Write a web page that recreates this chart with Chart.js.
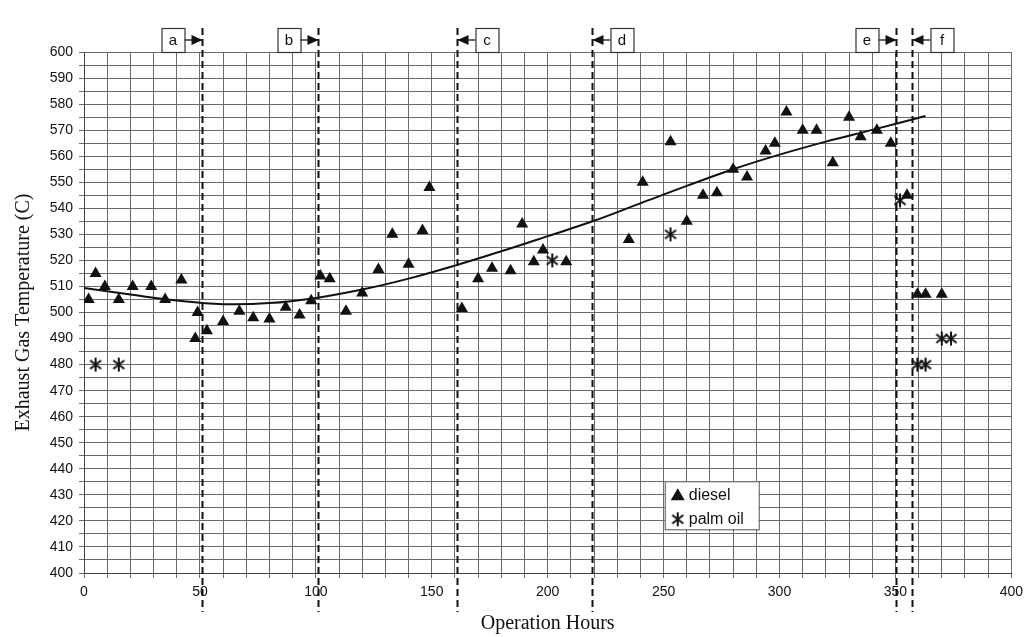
<!DOCTYPE html>
<html>
<head>
<meta charset="utf-8">
<script src="https://cdn.jsdelivr.net/npm/chart.js@4.4.1/dist/chart.umd.min.js"></script>
<style>
  html, body { margin: 0; padding: 0; background: #fff; }
</style>
</head>
<body>
<canvas id="tempChart" width="1029" height="637"></canvas>
<script>
// values
const dieselHours = [2, 5, 9, 15, 21, 29, 35, 42, 49, 48, 53, 60, 67, 73, 80, 87, 93, 98, 102, 106,
  113, 120, 127, 133, 140, 146, 149, 163, 170, 176, 184, 189, 194, 198, 208, 235, 241, 253, 260, 267,
  273, 280, 286, 294, 298, 303, 310, 316, 323, 330, 335, 342, 348, 355, 359.5, 363, 370];
const dieselTemp = [505, 515, 510, 505, 510, 510, 505, 512.5, 500, 490, 493, 496.5, 500.5, 498, 497.5, 502, 499, 504.5, 514, 513,
  500.5, 507.5, 516.5, 530, 518.5, 531.5, 548, 501.5, 513, 517, 516, 534, 519.5, 524, 519.5, 528, 550, 565.5, 535, 545,
  546, 555, 552, 562, 565, 577, 570, 570, 557.5, 575, 567.5, 570, 565, 545, 507, 507, 507];

const palmHours = [5, 15, 202, 253, 352, 359.5, 363, 370, 374];
const palmTemp = [480, 480, 520, 530, 543, 480, 480, 490, 490];

const trendHours = [0, 20, 40, 60, 80, 100, 120, 140, 160, 180, 200, 220, 240, 260, 280, 300, 320, 340, 363];
const trendTemp = [509.4, 506.9, 504.6, 503.2, 503.6, 505.6, 508.8, 513.0, 518, 523.5, 529.3, 535.2, 541.9, 548.6,
  555.0, 560.6, 565.6, 570.1, 575.4];

// phase boundaries (dashed lines) and which side the label box sits on
const phaseHours = [50.8, 101, 161, 219, 350.4, 357.3];
const phaseLabels = ["a", "b", "c", "d", "e", "f"];
const phaseSide = ["left", "left", "right", "right", "left", "right"];

const seriesNames = ["diesel", "palm oil"];

const zip = (xs, ys) => xs.map((x, i) => ({ x: x, y: ys[i] }));

// asterisk marker for palm oil: an X with a vertical stroke
function makeAsterisk(size) {
  const c = document.createElement("canvas");
  c.width = size; c.height = size;
  const g = c.getContext("2d");
  const m = size / 2, r = size / 2 - 1;
  g.strokeStyle = "#111";
  g.lineWidth = 2;
  g.beginPath();
  g.moveTo(m, m - r); g.lineTo(m, m + r);
  const a = 38 * Math.PI / 180;
  for (const s of [1, -1]) {
    g.moveTo(m - r * Math.cos(a), m - s * r * Math.sin(a));
    g.lineTo(m + r * Math.cos(a), m + s * r * Math.sin(a));
  }
  g.stroke();
  return c;
}
const asterisk = makeAsterisk(16);

const phasePlugin = {
  id: "phases",
  afterDraw(chart) {
    const ctx = chart.ctx;
    const xs = chart.scales.x;
    ctx.save();
    phaseHours.forEach((h, i) => {
      const px = Math.round(xs.getPixelForValue(h)) + 0.5;
      // dashed boundary
      ctx.strokeStyle = "#111";
      ctx.lineWidth = 2;
      ctx.setLineDash([7, 4]);
      ctx.beginPath();
      ctx.moveTo(px, 28);
      ctx.lineTo(px, 612);
      ctx.stroke();
      ctx.setLineDash([]);

      // label box + arrow
      const gap = 18, bw = 23, bh = 24, top = 28, cy = top + bh / 2;
      const left = phaseSide[i] === "left";
      const bx = left ? px - gap - bw : px + gap;
      ctx.fillStyle = "#fff";
      ctx.fillRect(bx, top, bw, bh);
      ctx.lineWidth = 1.2;
      ctx.strokeStyle = "#333";
      ctx.strokeRect(bx + 0.5, top + 0.5, bw, bh);
      ctx.fillStyle = "#111";
      ctx.font = "15px 'Liberation Sans', Arial, sans-serif";
      ctx.textAlign = "center";
      ctx.textBaseline = "middle";
      ctx.fillText(phaseLabels[i], bx + bw / 2, cy + 1);

      const from = left ? bx + bw : bx;
      const dir = left ? 1 : -1;
      ctx.lineWidth = 1.5;
      ctx.beginPath();
      ctx.moveTo(from, cy);
      ctx.lineTo(px, cy);
      ctx.stroke();
      ctx.beginPath();
      ctx.moveTo(px, cy);
      ctx.lineTo(px - dir * 11, cy - 5);
      ctx.lineTo(px - dir * 11, cy + 5);
      ctx.closePath();
      ctx.fill();
    });

    // legend box inside the plot
    const lx = xs.getPixelForValue(250.5);
    const ly = chart.scales.y.getPixelForValue(435.2);
    const lw = 94, lh = 48;
    ctx.fillStyle = "#fff";
    ctx.fillRect(lx, ly, lw, lh);
    ctx.strokeStyle = "#555";
    ctx.lineWidth = 1;
    ctx.strokeRect(lx + 0.5, ly + 0.5, lw, lh);
    ctx.fillStyle = "#111";
    ctx.beginPath();
    ctx.moveTo(lx + 13, ly + 7);
    ctx.lineTo(lx + 20, ly + 19);
    ctx.lineTo(lx + 6, ly + 19);
    ctx.closePath();
    ctx.fill();
    ctx.drawImage(asterisk, lx + 5, ly + 30);
    ctx.font = "16px 'Liberation Sans', Arial, sans-serif";
    ctx.textAlign = "left";
    ctx.textBaseline = "middle";
    ctx.fillText(seriesNames[0], lx + 24, ly + 14);
    ctx.fillText(seriesNames[1], lx + 24, ly + 38);
    ctx.restore();
  }
};

const tickFont = { family: "'Liberation Sans', Arial, sans-serif", size: 14 };
const titleFont = { family: "'Liberation Serif', 'Times New Roman', serif", size: 20 };

new Chart(document.getElementById("tempChart"), {
  type: "scatter",
  data: {
    datasets: [
      {
        label: seriesNames[0],
        data: zip(dieselHours, dieselTemp),
        pointStyle: "triangle",
        pointRadius: 7,
        pointHoverRadius: 7,
        backgroundColor: "#111",
        borderColor: "#111",
        borderWidth: 0
      },
      {
        label: seriesNames[1],
        data: zip(palmHours, palmTemp),
        pointStyle: asterisk,
        pointRadius: 8,
        backgroundColor: "#111",
        borderColor: "#111"
      },
      {
        label: "trend",
        type: "line",
        data: zip(trendHours, trendTemp),
        showLine: true,
        tension: 0.4,
        borderColor: "#111",
        borderWidth: 2,
        pointRadius: 0,
        fill: false
      }
    ]
  },
  options: {
    responsive: false,
    animation: false,
    layout: { padding: { top: 52, right: 16, left: 0, bottom: 0 } },
    plugins: {
      legend: { display: false },
      tooltip: { enabled: false }
    },
    scales: {
      x: {
        type: "linear",
        min: 0,
        max: 400,
        afterFit: s => { s.height = 64; },
        ticks: {
          stepSize: 10,
          autoSkip: false,
          maxRotation: 0,
          padding: 6,
          color: "#111",
          font: tickFont,
          callback: v => (v % 50 === 0 ? v : "")
        },
        grid: { color: "#6a6a6a", lineWidth: 1, tickLength: 5 },
        border: { color: "#444", width: 1 },
        title: { display: true, text: "Operation Hours", color: "#111", font: titleFont, padding: { bottom: 1 } }
      },
      y: {
        min: 400,
        max: 600,
        afterFit: s => { s.width = 84; },
        ticks: {
          stepSize: 5,
          autoSkip: false,
          padding: 6,
          color: "#111",
          font: tickFont,
          callback: v => (v % 10 === 0 ? v : "")
        },
        grid: { color: "#6a6a6a", lineWidth: 1, tickLength: 5 },
        border: { color: "#444", width: 1 },
        title: { display: true, text: "Exhaust Gas Temperature (C)", color: "#111", font: titleFont, padding: { top: 12 } }
      }
    }
  },
  plugins: [phasePlugin]
});
</script>
</body>
</html>
